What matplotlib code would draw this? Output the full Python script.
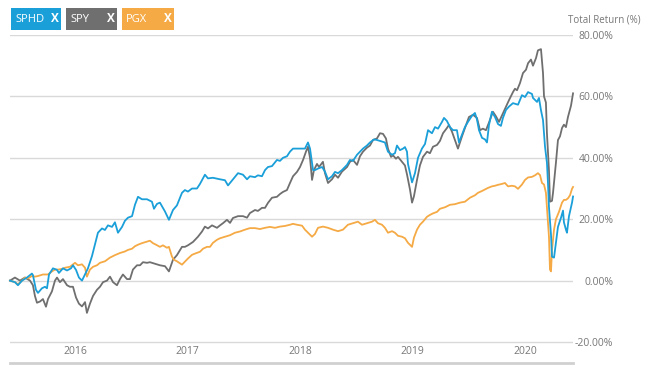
import matplotlib
matplotlib.use("Agg")
import matplotlib.pyplot as plt
from matplotlib.patches import Rectangle
import matplotlib.transforms as mtransforms

plt.rcParams['font.family'] = ['Open Sans', 'DejaVu Sans']

# ---- data: (decimal year, total return %) ----
sphd = [(2015.422, 0), (2015.466, -0.5), (2015.493, -1.5), (2015.529, 0), (2015.573, 1),
        (2015.617, 2.3), (2015.626, 1.8), (2015.653, -3), (2015.671, -4), (2015.706, -2.5),
        (2015.733, -2), (2015.751, -2.5), (2015.769, 2), (2015.804, 4), (2015.840, 3.5),
        (2015.857, 2.5), (2015.893, 4), (2015.929, 3.3), (2015.964, 4), (2015.982, 5),
        (2016.009, 3.5), (2016.035, 1), (2016.062, 0), (2016.089, 2), (2016.115, 4),
        (2016.151, 8), (2016.177, 11.7), (2016.204, 15.6), (2016.240, 17), (2016.266, 16.5),
        (2016.293, 18), (2016.329, 17.5), (2016.355, 19), (2016.382, 15.6), (2016.418, 17.5),
        (2016.444, 19.5), (2016.471, 20.5), (2016.507, 21), (2016.533, 24.7), (2016.560, 27.3),
        (2016.595, 26.5), (2016.640, 26.5), (2016.684, 25.7), (2016.702, 23.4), (2016.729, 25),
        (2016.755, 25.4), (2016.800, 22.5), (2016.835, 19.8), (2016.871, 23), (2016.906, 24.5),
        (2016.951, 28.6), (2016.977, 29.5), (2017.004, 29), (2017.040, 30), (2017.084, 30),
        (2017.111, 31.5), (2017.155, 34.5), (2017.182, 33.3), (2017.226, 33.5), (2017.289, 33),
        (2017.333, 32.7), (2017.360, 31), (2017.404, 33), (2017.449, 35), (2017.493, 34.5),
        (2017.529, 33), (2017.555, 34), (2017.600, 33.7), (2017.626, 34.3), (2017.662, 34),
        (2017.689, 36), (2017.715, 37), (2017.751, 37.3), (2017.795, 39.3), (2017.822, 39),
        (2017.849, 40), (2017.884, 40.5), (2017.911, 42), (2017.938, 43), (2017.973, 43),
        (2018.018, 43), (2018.044, 43), (2018.071, 45), (2018.089, 43), (2018.116, 36),
        (2018.133, 36), (2018.160, 36.5), (2018.196, 37), (2018.222, 35.5), (2018.249, 33),
        (2018.284, 34), (2018.311, 35.4), (2018.338, 35), (2018.373, 36), (2018.418, 37.7),
        (2018.444, 39.3), (2018.471, 39), (2018.507, 41), (2018.533, 42), (2018.560, 43),
        (2018.595, 44), (2018.622, 45), (2018.658, 46), (2018.684, 45.8), (2018.729, 45.3),
        (2018.755, 45), (2018.782, 42), (2018.818, 41), (2018.844, 41.5), (2018.862, 44),
        (2018.889, 42.5), (2018.916, 43), (2018.933, 43.5), (2018.951, 42), (2018.960, 38),
        (2018.978, 35), (2018.996, 32), (2019.022, 35), (2019.049, 40), (2019.084, 43),
        (2019.111, 44.5), (2019.138, 49), (2019.173, 48), (2019.200, 50), (2019.227, 49.5),
        (2019.262, 51.7), (2019.280, 53), (2019.306, 52), (2019.333, 50), (2019.360, 49),
        (2019.395, 49), (2019.413, 45), (2019.440, 47.5), (2019.466, 50), (2019.493, 51.7),
        (2019.529, 53.7), (2019.555, 54.6), (2019.573, 52.5), (2019.591, 49), (2019.618, 46.5),
        (2019.644, 46), (2019.662, 45), (2019.680, 50.7), (2019.706, 55), (2019.733, 53.3),
        (2019.760, 51), (2019.786, 50.4), (2019.804, 53), (2019.831, 55.6), (2019.858, 56.7),
        (2019.893, 57.8), (2019.911, 57.6), (2019.938, 57.3), (2019.973, 60.4), (2020.000, 59.8),
        (2020.027, 61.4), (2020.062, 60.8), (2020.071, 59.5), (2020.107, 58.2), (2020.124, 59.5),
        (2020.142, 55.5), (2020.160, 52.3), (2020.169, 48), (2020.178, 43.6), (2020.195, 38.4),
        (2020.204, 32), (2020.213, 24), (2020.231, 15), (2020.240, 7.8), (2020.258, 7.5),
        (2020.275, 12.4), (2020.293, 17.5), (2020.320, 20.5), (2020.338, 22.8), (2020.346, 19),
        (2020.364, 16.6), (2020.373, 15.6), (2020.391, 21), (2020.418, 25.4), (2020.427, 27.4)]

spy = [(2015.422, 0), (2015.466, 1), (2015.511, 0), (2015.555, 1), (2015.600, 0),
       (2015.626, -1.5), (2015.644, -5), (2015.662, -7.2), (2015.689, -6.8), (2015.715, -6),
       (2015.742, -8.5), (2015.760, -6), (2015.795, -3.5), (2015.822, 0), (2015.840, 1),
       (2015.866, -0.5), (2015.893, 0.5), (2015.929, -1.5), (2015.955, -2), (2015.982, -2),
       (2016.009, -5.5), (2016.035, -7.5), (2016.062, -8.4), (2016.089, -7), (2016.106, -10.5),
       (2016.133, -7.5), (2016.160, -5), (2016.195, -3), (2016.222, -2), (2016.249, -0.5),
       (2016.284, 0), (2016.311, 1.3), (2016.338, -0.5), (2016.373, -1.5), (2016.400, 0.5),
       (2016.426, 2), (2016.462, 0.5), (2016.489, 0.5), (2016.515, 3.6), (2016.551, 5),
       (2016.578, 5), (2016.604, 6), (2016.640, 5.8), (2016.666, 6), (2016.711, 5.5),
       (2016.755, 5), (2016.800, 4.7), (2016.835, 3), (2016.871, 6.8), (2016.906, 8.3),
       (2016.951, 11), (2016.977, 11), (2017.004, 11.5), (2017.049, 12.6), (2017.093, 14.3),
       (2017.129, 16), (2017.155, 17.6), (2017.182, 17), (2017.218, 18), (2017.262, 17.2),
       (2017.289, 18), (2017.315, 18.7), (2017.351, 19.8), (2017.378, 18.8), (2017.404, 20.4),
       (2017.449, 21), (2017.493, 21), (2017.529, 20.5), (2017.555, 22), (2017.600, 23),
       (2017.626, 22.7), (2017.662, 23.7), (2017.689, 23.7), (2017.715, 25.3), (2017.751, 27),
       (2017.795, 27.3), (2017.822, 28.2), (2017.849, 28.9), (2017.884, 29.5), (2017.911, 31.8),
       (2017.938, 34), (2017.973, 35.4), (2018.000, 37), (2018.027, 39.3), (2018.053, 42),
       (2018.071, 43.6), (2018.089, 40), (2018.107, 32.8), (2018.124, 36), (2018.151, 38),
       (2018.169, 37), (2018.204, 38.7), (2018.222, 35), (2018.249, 31.8), (2018.284, 33),
       (2018.311, 34.5), (2018.338, 33.5), (2018.373, 35.5), (2018.418, 37), (2018.444, 38.7),
       (2018.471, 39.3), (2018.507, 37.7), (2018.533, 40.5), (2018.560, 42), (2018.595, 43.3),
       (2018.622, 44), (2018.649, 45.8), (2018.684, 46.3), (2018.711, 48), (2018.738, 47.8),
       (2018.764, 46.3), (2018.782, 43), (2018.809, 40.3), (2018.827, 40.8), (2018.853, 39.7),
       (2018.871, 40.3), (2018.907, 38.7), (2018.933, 37.5), (2018.951, 34.6), (2018.978, 29.6),
       (2018.996, 25.4), (2019.013, 27.5), (2019.040, 32.8), (2019.066, 37.5), (2019.093, 40.3),
       (2019.129, 42), (2019.155, 41.5), (2019.182, 43.6), (2019.218, 44.2), (2019.244, 45.5),
       (2019.271, 48), (2019.306, 49.7), (2019.324, 50.7), (2019.351, 48.5), (2019.377, 45.8),
       (2019.404, 43), (2019.440, 47), (2019.466, 49.7), (2019.502, 53.3), (2019.538, 54),
       (2019.573, 53), (2019.600, 49), (2019.626, 49.5), (2019.653, 49), (2019.680, 51.5),
       (2019.715, 55), (2019.742, 53.5), (2019.769, 51.7), (2019.804, 54.5), (2019.831, 56.6),
       (2019.858, 58.8), (2019.893, 61.4), (2019.911, 62.5), (2019.929, 62), (2019.955, 64.3),
       (2019.982, 67.6), (2020.009, 68.7), (2020.027, 70.8), (2020.053, 72), (2020.071, 70),
       (2020.098, 72.5), (2020.115, 75), (2020.142, 75.4), (2020.160, 67.6), (2020.169, 60),
       (2020.186, 58), (2020.195, 48), (2020.213, 36), (2020.222, 25.7), (2020.240, 26),
       (2020.249, 28.6), (2020.275, 38.4), (2020.293, 45.8), (2020.311, 47), (2020.329, 49.7),
       (2020.346, 50.8), (2020.364, 50), (2020.382, 53.3), (2020.409, 57), (2020.427, 61)]

pgx = [(2015.422, 0), (2015.466, -0.5), (2015.493, -1.2), (2015.529, 0), (2015.555, 1),
       (2015.582, 0.7), (2015.617, 1.5), (2015.644, 1.3), (2015.671, 1.5), (2015.715, 2),
       (2015.760, 2), (2015.795, 3), (2015.822, 3.6), (2015.849, 3.6), (2015.884, 3.8),
       (2015.911, 4.2), (2015.955, 4.5), (2016.000, 5.8), (2016.026, 5), (2016.062, 5.3),
       (2016.089, 4.2), (2016.106, 1.3), (2016.133, 3.6), (2016.160, 4.5), (2016.195, 5),
       (2016.222, 5.8), (2016.266, 6.3), (2016.311, 7.5), (2016.355, 8.3), (2016.400, 9),
       (2016.444, 9.5), (2016.471, 10), (2016.507, 10.4), (2016.533, 11.2), (2016.560, 11.7),
       (2016.595, 12.2), (2016.640, 12.7), (2016.666, 13), (2016.693, 12.2), (2016.720, 11.7),
       (2016.755, 11), (2016.782, 11.5), (2016.817, 10.7), (2016.835, 11), (2016.862, 7.8),
       (2016.880, 6.8), (2016.906, 6.3), (2016.951, 5.2), (2016.977, 6.2), (2017.004, 7.2),
       (2017.040, 8.4), (2017.066, 8.8), (2017.111, 9.4), (2017.138, 10.4), (2017.173, 11),
       (2017.200, 11), (2017.226, 12.3), (2017.262, 13.3), (2017.289, 13.8), (2017.333, 14.3),
       (2017.378, 14.8), (2017.422, 15.6), (2017.466, 16), (2017.511, 16.6), (2017.555, 17.1),
       (2017.600, 17.1), (2017.644, 16.8), (2017.689, 17.2), (2017.733, 17.5), (2017.778, 17.2),
       (2017.822, 17.6), (2017.866, 17.8), (2017.911, 18.2), (2017.938, 18.5), (2017.973, 18.2),
       (2018.018, 17.9), (2018.044, 16.6), (2018.071, 15.6), (2018.107, 14.3), (2018.133, 15.2),
       (2018.160, 17.2), (2018.204, 17.6), (2018.249, 17.2), (2018.293, 16.6), (2018.338, 16.1),
       (2018.382, 16.6), (2018.426, 18.2), (2018.471, 18.7), (2018.515, 19.2), (2018.551, 18.2),
       (2018.595, 18.7), (2018.640, 19.2), (2018.666, 19.8), (2018.693, 18.7), (2018.729, 18.2),
       (2018.755, 17.2), (2018.782, 15.6), (2018.818, 16.1), (2018.844, 15.6), (2018.871, 14.6),
       (2018.907, 14.3), (2018.933, 13.8), (2018.960, 12.3), (2018.996, 11), (2019.013, 14),
       (2019.040, 16.6), (2019.066, 18.2), (2019.093, 19.2), (2019.129, 20.8), (2019.155, 21.4),
       (2019.182, 21.9), (2019.218, 22.4), (2019.244, 23.4), (2019.289, 23.9), (2019.333, 24.7),
       (2019.377, 24.9), (2019.422, 25.4), (2019.466, 25.7), (2019.511, 27), (2019.555, 27.8),
       (2019.582, 28.6), (2019.618, 29.2), (2019.644, 29.7), (2019.671, 30.2), (2019.706, 30.7),
       (2019.733, 30.9), (2019.760, 31.2), (2019.795, 31.5), (2019.822, 31.8), (2019.849, 30.7),
       (2019.884, 30.9), (2019.911, 30.7), (2019.938, 29.9), (2019.973, 31.3), (2020.000, 32.8),
       (2020.027, 33.6), (2020.062, 33.8), (2020.089, 34.3), (2020.115, 35), (2020.133, 34.4),
       (2020.151, 31.8), (2020.169, 31.3), (2020.186, 28.6), (2020.195, 24), (2020.213, 14.3),
       (2020.222, 3.6), (2020.231, 3), (2020.240, 10), (2020.258, 16.6), (2020.275, 20),
       (2020.302, 22.4), (2020.329, 25.4), (2020.346, 26.3), (2020.364, 26.3), (2020.382, 26.8),
       (2020.400, 27.8), (2020.418, 29.9), (2020.427, 30.5)]

series_names = ["SPHD", "SPY", "PGX"]
series_colors = ["#1a9fd9", "#6f6f6f", "#f5aa45"]
year_ticks = [2016, 2017, 2018, 2019, 2020]
y_ticks = [80, 60, 40, 20, 0, -20]
y_label = "Total Return (%)"

W, H = 646, 377
fig = plt.figure(figsize=(W / 100, H / 100), dpi=100)
fig.patch.set_facecolor("white")

ax_l, ax_r, ax_t, ax_b = 10, 573, 35, 363
ax = fig.add_axes([ax_l / W, 1 - ax_b / H, (ax_r - ax_l) / W, (ax_b - ax_t) / H])

px_per_year = 112.5
x0 = 2016 - (75 - ax_l) / px_per_year
x1 = 2016 + (ax_r - 75) / px_per_year
ax.set_xlim(x0, x1)
ymin = -20 - 21 / 61.5 * 20
ax.set_ylim(ymin, 80)

for data, c, z in [(spy, series_colors[1], 2), (pgx, series_colors[2], 3), (sphd, series_colors[0], 4)]:
    t, v = zip(*data)
    ax.plot(t, v, color=c, lw=1.3, zorder=z, solid_joinstyle="round", clip_on=False)

# grid lines
for yv in y_ticks:
    ax.axhline(yv, color="#d9d9d9", lw=1.0, zorder=1)
ax.set_yticks(y_ticks)
ax.yaxis.tick_right()
ax.set_yticklabels([f"{v:.2f}%" for v in y_ticks])
ax.tick_params(axis="y", length=0, labelcolor="#777777", labelsize=7.5, pad=29)
for lab in ax.get_yticklabels():
    lab.set_horizontalalignment("right")
ax.set_xticks([])

for s in ["top", "left", "right"]:
    ax.spines[s].set_visible(False)
ax.spines["bottom"].set_color("#d0d0d0")
ax.spines["bottom"].set_linewidth(2.0)

trans = mtransforms.blended_transform_factory(ax.transData, ax.transAxes)
for yr in year_ticks:
    ax.text(yr, (ax_b - 352) / (ax_b - ax_t), str(yr), transform=trans,
            ha="center", va="center", fontsize=7.5, color="#777777")

fig.text(604 / W, 1 - 20 / H, y_label, ha="center", va="center", fontsize=7, color="#777777")

# legend buttons
boxes = [(11, 61), (66, 117), (122, 174)]
for (bx0, bx1), name, c in zip(boxes, series_names, series_colors):
    fig.patches.append(Rectangle((bx0 / W, 1 - 30 / H), (bx1 - bx0) / W, 22 / H,
                                 transform=fig.transFigure, facecolor=c, edgecolor="none"))
    fig.text((bx0 + 4) / W, 1 - 19 / H, name, ha="left", va="center", fontsize=8, color="white")
    fig.text((bx1 - 6) / W, 1 - 19 / H, "X", ha="center", va="center", fontsize=8.5,
             color="white", fontweight="bold")

fig.savefig("out.png", dpi=100, facecolor="white")
